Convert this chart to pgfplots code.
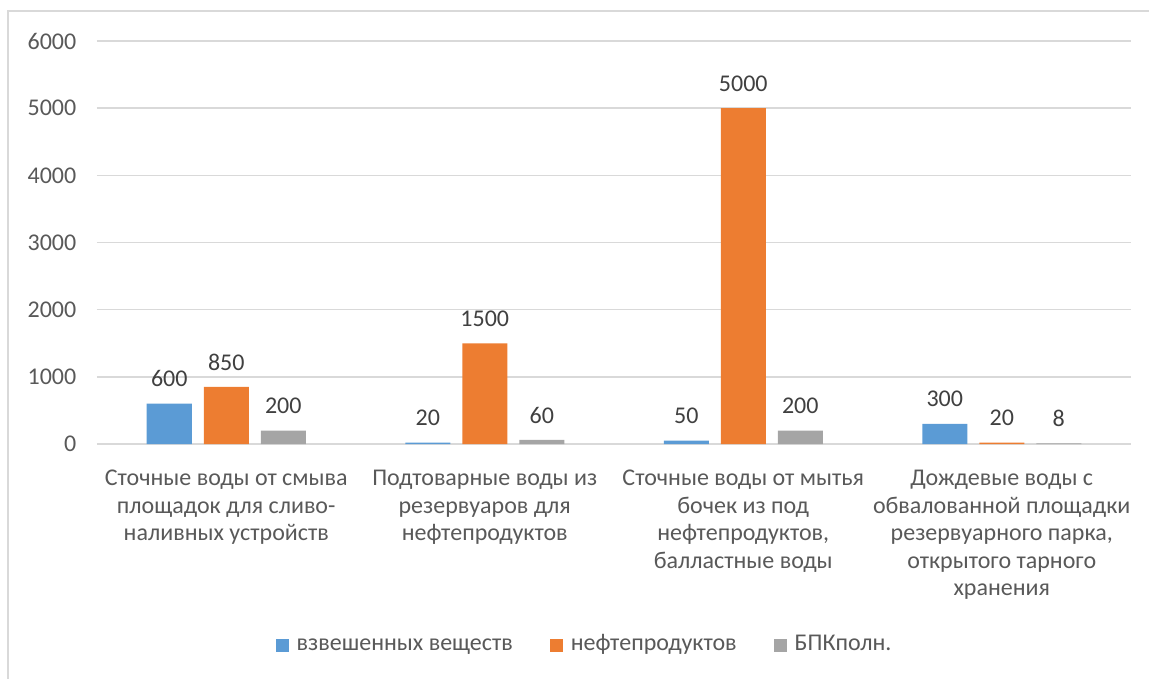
\documentclass[border=0pt]{standalone}
\usepackage{pgfplots}
\pgfplotsset{compat=1.18}
\usepackage{fontspec}
\setmainfont{Carlito}
\definecolor{cblue}{HTML}{5B9BD5}
\definecolor{corange}{HTML}{ED7D31}
\definecolor{cgray}{HTML}{A5A5A5}
\definecolor{gridc}{HTML}{D9D9D9}
\definecolor{tickc}{HTML}{595959}
\definecolor{labc}{HTML}{404040}
\begin{document}
\begin{tikzpicture}
\useasboundingbox (-72.75pt,-175.5pt) rectangle (789pt,333pt);
\draw[gridc,line width=1.2pt] (-66.75pt,-180pt) -- (-66.75pt,324.75pt) -- (800pt,324.75pt);
\begin{axis}[
  at={(0,0)}, anchor=south west,
  scale only axis,
  width=775.5pt, height=302.25pt,
  ybar=9pt, bar width=33.75pt,
  xmin=-0.5, xmax=3.5, ymin=0, ymax=6000,
  xtick={0,1,2,3},
  xticklabels={
    {Сточные воды от смыва\\площадок для сливо-\\наливных устройств},
    {Подтоварные воды из\\резервуаров для\\нефтепродуктов},
    {Сточные воды от мытья\\бочек из под\\нефтепродуктов,\\балластные воды},
    {Дождевые воды с\\обвалованной площадки\\резервуарного парка,\\открытого тарного\\хранения}},
  xticklabel style={align=center, font=\fontsize{18}{20.7}\selectfont, text=tickc, yshift=-16pt},
  ytick={0,1000,2000,3000,4000,5000,6000},
  yticklabel style={font=\fontsize{18}{21}\selectfont, text=tickc, xshift=-12pt},
  /pgf/number format/assume math mode=true,
  scaled y ticks=false,
  yticklabel={\pgfmathprintnumber[fixed,1000 sep={}]{\tick}},
  ymajorgrids, grid style={gridc, line width=1.2pt},
  major tick length=0pt,
  axis line style={draw=none},
  nodes near coords,
  every node near coord/.append style={font=\fontsize{18}{21}\selectfont, text=labc, yshift=9pt, /pgf/number format/assume math mode=true, /pgf/number format/1000 sep={}},
  legend style={draw=none, at={(0.472,-0.505)}, anchor=center, font=\fontsize{18}{21}\selectfont, text=tickc, legend columns=3, nodes={text height=0.72em, text depth=0.22em}, /tikz/every even column/.append style={column sep=26pt}, /tikz/every odd column/.append style={column sep=3.5pt}},
  legend image code/.code={\fill[#1] (0pt,-3.5pt) rectangle (10pt,6.5pt);},
]
\addplot[fill=cblue, draw=none] coordinates {(0,600) (1,20) (2,50) (3,300)};
\addplot[fill=corange, draw=none] coordinates {(0,850) (1,1500) (2,5000) (3,20)};
\addplot[fill=cgray, draw=none] coordinates {(0,200) (1,60) (2,200) (3,8)};
\legend{взвешенных веществ, нефтепродуктов, БПКполн.}
\end{axis}
\end{tikzpicture}
\end{document}
